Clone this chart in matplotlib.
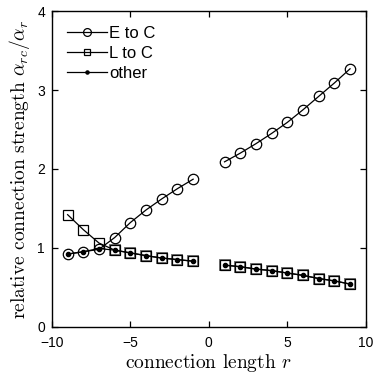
import matplotlib
matplotlib.use('Agg')
import matplotlib.pyplot as plt

# connection lengths (no r = 0)
r = [-9, -8, -7, -6, -5, -4, -3, -2, -1, 1, 2, 3, 4, 5, 6, 7, 8, 9]

e_to_c = [0.92, 0.95, 0.98, 1.13, 1.32, 1.48, 1.62, 1.75, 1.87,
          2.09, 2.20, 2.32, 2.45, 2.59, 2.75, 2.92, 3.09, 3.27]
l_to_c = [1.42, 1.23, 1.06, 0.97, 0.935, 0.90, 0.87, 0.85, 0.83,
          0.78, 0.76, 0.73, 0.71, 0.68, 0.65, 0.61, 0.58, 0.54]
other = [0.92, 0.95, 0.99, 0.97, 0.935, 0.90, 0.87, 0.85, 0.83,
         0.78, 0.76, 0.73, 0.71, 0.68, 0.65, 0.61, 0.58, 0.54]

plt.rcParams['font.family'] = 'Liberation Sans'
plt.rcParams['mathtext.fontset'] = 'cm'

fig = plt.figure(figsize=(3.79, 3.75), dpi=100)
ax = fig.add_axes([0.137, 0.129, 0.828, 0.841])


def halves(vals):
    # r = 0 is left out, so each curve is drawn in two pieces
    return (r[:9], vals[:9]), (r[9:], vals[9:])


(xa, ya), (xb, yb) = halves(e_to_c)
ax.plot(xa, ya, '-o', color='k', lw=0.9, ms=7.5, mfc='none', mew=0.9, label='E to C')
ax.plot(xb, yb, '-o', color='k', lw=0.9, ms=7.5, mfc='none', mew=0.9)

(xa, ya), (xb, yb) = halves(l_to_c)
ax.plot(xa, ya, '-s', color='k', lw=0.9, ms=6.5, mfc='none', mew=0.9, label='L to C')
ax.plot(xb, yb, '-s', color='k', lw=0.9, ms=6.5, mfc='none', mew=0.9)
# heavier gray outline where the squares sit on the "other" curve
ax.plot(r[3:], l_to_c[3:], 's', ms=6.5, mfc='none', mec='0.45', mew=1.4, zorder=1)

(xa, ya), (xb, yb) = halves(other)
ax.plot(xa, ya, '-o', color='k', lw=0.9, ms=3, label='other')
ax.plot(xb, yb, '-o', color='k', lw=0.9, ms=3)

ax.set_xlim(-10, 10)
ax.set_ylim(0, 4)
ax.set_xticks([-10, -5, 0, 5, 10])
ax.set_yticks([0, 1, 2, 3, 4])
ax.tick_params(direction='in', top=True, right=True, labelsize=10, length=4, width=0.9)
ax.tick_params(axis='x', pad=7)
ax.tick_params(axis='y', pad=5)
for s in ax.spines.values():
    s.set_linewidth(1.0)

ax.set_xlabel(r'connection length $r$', fontsize=14, family='cmr10', labelpad=1)
ax.set_ylabel(r'relative connection strength $\alpha_{rc}/\alpha_r$', fontsize=14,
              family='cmr10', labelpad=4)

ax.legend(loc='upper left', frameon=False, fontsize=12, handlelength=2.4,
          handletextpad=0.15, labelspacing=0.3, borderaxespad=0.5, markerscale=0.75)

fig.savefig('out.png', dpi=100)
